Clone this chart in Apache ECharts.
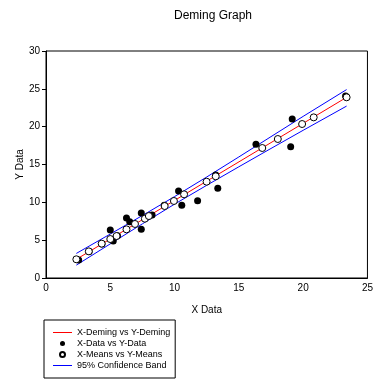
<!DOCTYPE html>
<html>
<head>
<meta charset="utf-8">
<script src="https://cdn.jsdelivr.net/npm/echarts@6/dist/echarts.min.js"></script>
<style>html,body{margin:0;padding:0;background:#fff}#c{width:376px;height:383px}</style>
</head>
<body>
<div id="c"></div>
<script>
// Data
var dataX = [2.54, 3.35, 4.35, 5.0, 5.23, 5.56, 6.26, 6.51, 7.41, 7.41, 8.25, 9.2, 10.31, 10.56, 11.79, 13.2, 13.36, 16.33, 19.03, 19.15, 23.3];
var dataY = [2.38, 3.5, 4.5, 6.34, 4.89, 5.6, 7.93, 7.44, 8.59, 6.43, 8.33, 9.6, 11.5, 9.6, 10.22, 13.6, 11.85, 17.67, 17.35, 21.0, 24.05];
var meansX = [2.36, 3.33, 4.33, 5.0, 5.49, 6.26, 6.92, 7.69, 8.0, 9.23, 9.95, 10.74, 12.49, 13.2, 16.82, 18.03, 19.92, 20.82, 23.38];
var meansY = [2.47, 3.52, 4.54, 5.15, 5.55, 6.43, 7.14, 7.84, 8.19, 9.51, 10.18, 11.06, 12.73, 13.44, 17.18, 18.37, 20.35, 21.23, 23.88];
var demingX = [2.36, 23.38];
var demingY = [2.47, 23.88];
var bandX = [2.36, 5, 7.5, 10, 12.5, 15, 17.5, 20, 23.38];
var bandUpper = [3.25, 5.81, 8.26, 10.76, 13.35, 16.0, 18.68, 21.36, 24.9];
var bandLower = [1.70, 4.51, 7.16, 9.76, 12.25, 14.7, 17.12, 19.52, 22.72];
var xTicks = [0, 5, 10, 15, 20, 25];
var yTicks = [0, 5, 10, 15, 20, 25, 30];

function pairs(xs, ys) { return xs.map(function (x, i) { return [x, ys[i]]; }); }

var FONT = 'Liberation Sans';
var LINE_ICON = 'path://M0,0H19V1H0Z';
var chart = echarts.init(document.getElementById('c'), null, { renderer: 'canvas' });
chart.setOption({
  animation: false,
  backgroundColor: '#ffffff',
  title: {
    text: 'Deming Graph', left: 208, top: 5, textAlign: 'center',
    textStyle: { fontFamily: FONT, fontSize: 12, fontWeight: 'normal', color: '#000' }
  },
  grid: { left: 46, top: 51, right: 5, bottom: 105, show: true, borderColor: '#000', borderWidth: 1, backgroundColor: 'transparent' },
  xAxis: {
    type: 'value', min: xTicks[0], max: xTicks[xTicks.length - 1], interval: 5,
    name: 'X Data', nameLocation: 'middle', nameGap: 27, nameMoveOverlap: false,
    nameTextStyle: { fontFamily: FONT, fontSize: 10, color: '#000' },
    axisLine: { lineStyle: { color: '#000', width: 1 } },
    axisTick: { show: false },
    splitLine: { show: false },
    axisLabel: { fontFamily: FONT, fontSize: 10, color: '#000', margin: 5 }
  },
  yAxis: {
    type: 'value', min: yTicks[0], max: yTicks[yTicks.length - 1], interval: 5,
    name: 'Y Data', nameLocation: 'middle', nameGap: 21, nameMoveOverlap: false,
    nameTextStyle: { fontFamily: FONT, fontSize: 10, color: '#000' },
    axisLine: { show: true, lineStyle: { color: '#000', width: 1 } },
    axisTick: { show: true, length: 4, lineStyle: { color: '#000' } },
    splitLine: { show: false },
    axisLabel: { fontFamily: FONT, fontSize: 10, color: '#000', margin: 6 }
  },
  legend: {
    orient: 'vertical', left: 44, top: 320,
    padding: [7, 5, 7, 9], itemGap: 0, itemWidth: 19, itemHeight: 5,
    borderColor: '#000', borderWidth: 1,
    textStyle: { fontFamily: FONT, fontSize: 9, color: '#000', lineHeight: 11 },
    data: [
      { name: 'X-Deming vs Y-Deming', icon: LINE_ICON, itemStyle: { color: '#ff0000' } },
      { name: 'X-Data vs Y-Data' },
      { name: 'X-Means vs Y-Means' },
      { name: '95% Confidence Band', icon: LINE_ICON, itemStyle: { color: '#0000ff' } }
    ]
  },
  series: [
    { name: '95% Confidence Band', type: 'line', data: pairs(bandX, bandUpper), symbol: 'none', lineStyle: { color: '#0000ff', width: 1 }, itemStyle: { color: '#0000ff' }, z: 1 },
    { name: '95% Confidence Band', type: 'line', data: pairs(bandX, bandLower), symbol: 'none', lineStyle: { color: '#0000ff', width: 1 }, itemStyle: { color: '#0000ff' }, z: 1 },
    { name: 'X-Deming vs Y-Deming', type: 'line', data: pairs(demingX, demingY), symbol: 'none', lineStyle: { color: '#ff0000', width: 1 }, itemStyle: { color: '#ff0000' }, z: 2 },
    { name: 'X-Data vs Y-Data', type: 'scatter', data: pairs(dataX, dataY), symbol: 'circle', symbolSize: 7, itemStyle: { color: '#000', opacity: 1 }, z: 3 },
    { name: 'X-Means vs Y-Means', type: 'scatter', data: pairs(meansX, meansY), symbol: 'circle', symbolSize: 7, itemStyle: { color: '#fff', borderColor: '#000', borderWidth: 1, opacity: 1 }, z: 4 }
  ]
});
</script>
</body>
</html>
